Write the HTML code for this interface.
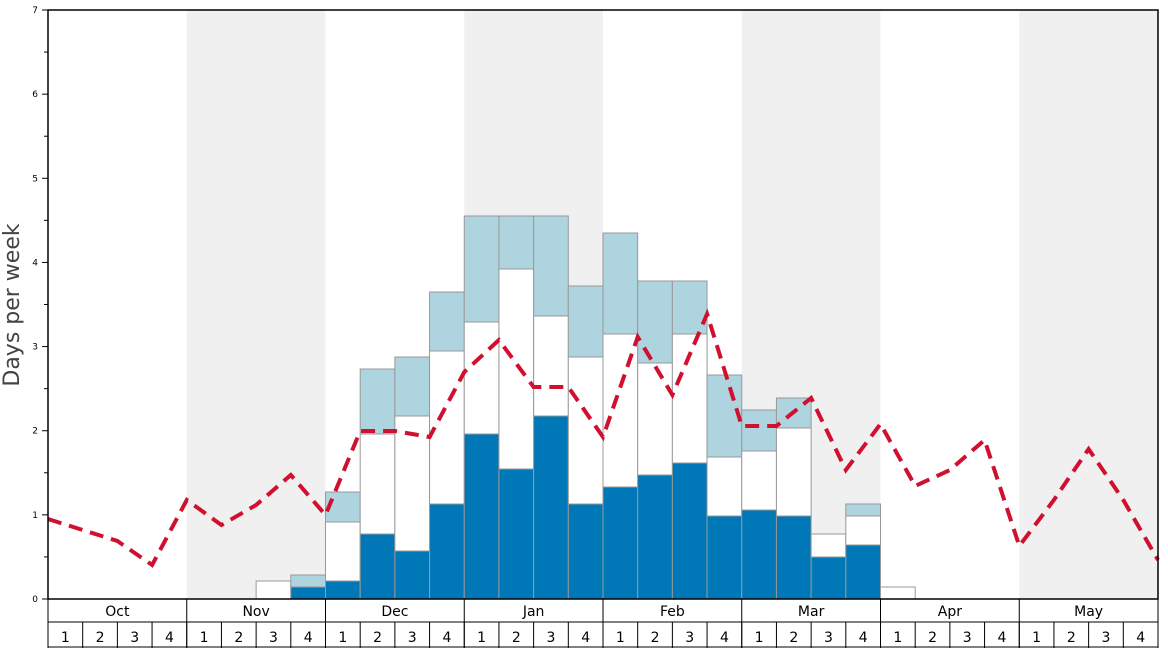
<!DOCTYPE html>
<html><head><meta charset="utf-8"><style>
html,body{margin:0;padding:0;background:#fff;}
svg{display:block;font-family:"DejaVu Sans","Liberation Sans",sans-serif;}
</style></head><body>
<svg id="c" width="1168" height="648" xmlns="http://www.w3.org/2000/svg"></svg>
<script>
const s=document.getElementById('c');
const L=48,R=1158,T=10,B=599,W=(R-L)/32;
let h='';
[1,3,5,7].forEach(m=>{h+=`<rect x="${L+m*4*W}" y="${T}" width="${4*W}" height="${B-T}" fill="#f0f0f0"/>`;});
const bars=[[6,599,581,581],[7,587,587,575],[8,581,522,492],[9,534,434,369],[10,551,416,357],[11,504,351,292],
[12,434,322,216],[13,469,269,216],[14,416,316,216],[15,504,357,286],[16,487,334,233],[17,475,363,281],[18,463,334,281],
[19,516,457,375],[20,510,451,410],[21,516,428,398],[22,557,534,534],[23,545,516,504],[24,599,587,587]];
bars.forEach(([w,d,wt,lt])=>{const x=L+w*W;
 if(lt<wt)h+=`<rect x="${x}" y="${lt}" width="${W}" height="${wt-lt}" fill="#aed4e0" stroke="#999" stroke-width="1"/>`;
 if(wt<d)h+=`<rect x="${x}" y="${wt}" width="${W}" height="${d-wt}" fill="#fff" stroke="#999" stroke-width="1"/>`;
 if(d<599)h+=`<rect x="${x}" y="${d}" width="${W}" height="${599-d}" fill="#0077b6" stroke="#999" stroke-width="1"/>`;
});
const ys=[519,530,541,565,500,525,505,475,515,431,431,437,372,340,387,387,437,337,395,314,426,426,398,470,424,486,470,440,546,500,449,500,560];
h+=`<polyline fill="none" stroke="#d0102e" stroke-width="4" stroke-dasharray="14,8" points="${ys.map((y,i)=>(L+i*W).toFixed(1)+','+y).join(' ')}"/>`;
h+=`<rect x="${L}" y="${T}" width="${R-L}" height="${B-T}" fill="none" stroke="#000" stroke-width="1.5"/>`;
for(let v=0;v<=7;v+=0.5){const y=B-v*(B-T)/7;h+=`<line x1="${v%1?44:42}" x2="${L}" y1="${y}" y2="${y}" stroke="#000"/>`;
 if(v%1==0)h+=`<text x="38" y="${y+3}" font-size="9" text-anchor="end">${v}</text>`;}
h+=`<text transform="translate(19,305) rotate(-90)" font-size="22" fill="#444" text-anchor="middle">Days per week</text>`;
h+=`<line x1="${L}" x2="${R}" y1="622" y2="622" stroke="#000"/><line x1="${L}" x2="${R}" y1="647" y2="647" stroke="#000"/>`;
const mo=['Oct','Nov','Dec','Jan','Feb','Mar','Apr','May'];
for(let m=0;m<=8;m++){const x=L+m*4*W;h+=`<line x1="${x}" x2="${x}" y1="${B}" y2="648" stroke="#000"/>`;
 if(m<8)h+=`<text x="${x+2*W}" y="616" font-size="14" text-anchor="middle">${mo[m]}</text>`;}
for(let w=0;w<32;w++){const x=L+w*W;h+=`<line x1="${x}" x2="${x}" y1="622" y2="648" stroke="#000"/>`;
 h+=`<text x="${x+W/2}" y="642" font-size="14" text-anchor="middle">${w%4+1}</text>`;}
s.innerHTML=h;
</script>
</body></html>
